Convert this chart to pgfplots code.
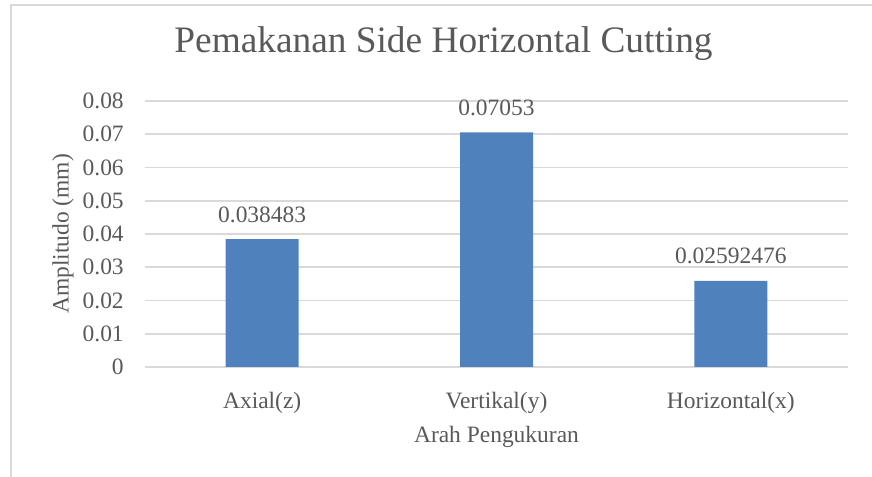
\documentclass[border=0pt]{standalone}
\usepackage{pgfplots}
\pgfplotsset{compat=1.18}
\usepackage{fontspec}
\setmainfont{Liberation Serif}
\definecolor{barblue}{HTML}{4F81BD}
\definecolor{txt}{HTML}{595959}
\definecolor{gridc}{HTML}{D9D9D9}
\pgfplotstableread{
x y lab
0 0.038483 0.038483
1 0.07053 0.07053
2 0.02592476 0.02592476
}\datatable
\begin{document}
\begin{tikzpicture}[x=0.75pt,y=0.75pt]
\path[use as bounding box] (0,0) rectangle (872,477);
\draw[gridc, line width=1.2pt] (11,0) -- (11,472) -- (872,472);
\begin{axis}[
  at={(108.75pt,82.5pt)}, anchor=south west,
  scale only axis, width=527.25pt, height=199.5pt,
  xmin=-0.5, xmax=2.5, ymin=0, ymax=0.08,
  scaled y ticks=false,
  /pgf/number format/assume math mode=true,
  axis line style={draw=none}, tick style={draw=none},
  ymajorgrids, grid style={gridc, line width=1.2pt},
  ytick={0,0.01,0.02,0.03,0.04,0.05,0.06,0.07,0.08},
  yticklabels={0,0.01,0.02,0.03,0.04,0.05,0.06,0.07,0.08},
  xtick={0,1,2},
  xticklabels={Axial(z),Vertikal(y),Horizontal(x)},
  ticklabel style={font=\fontsize{17.6}{20}\selectfont, text=txt},
  yticklabel style={anchor=east, inner sep=0pt, xshift=-15.75pt},
  xticklabel style={anchor=base, inner sep=0pt, yshift=-27pt},
  ylabel={Amplitudo (mm)},
  ylabel style={at={(axis description cs:-0.1166,0.5)}, anchor=center, inner sep=0pt, font=\fontsize{17.6}{20}\selectfont, text=txt},
  xlabel={Arah Pengukuran},
  xlabel style={at={(axis description cs:0.5,-0.2857)}, anchor=base, inner sep=0pt, yshift=0pt, font=\fontsize{17.6}{20}\selectfont, text=txt},
  title={Pemakanan Side Horizontal Cutting},
  title style={at={(axis description cs:0.4246,1.1541)}, anchor=base, inner sep=0pt, yshift=0pt, font=\fontsize{28}{32}\selectfont, text=txt},
  ybar, bar width=54.75pt,
  nodes near coords,
  point meta=explicit symbolic,
  every node near coord/.append style={font=\fontsize{17.6}{20}\selectfont, text=txt, anchor=base, inner sep=0pt, yshift=12.75pt},
]
\addplot[fill=barblue, draw=none] table[x=x, y=y, meta=lab] {\datatable};
\end{axis}
\end{tikzpicture}
\end{document}
